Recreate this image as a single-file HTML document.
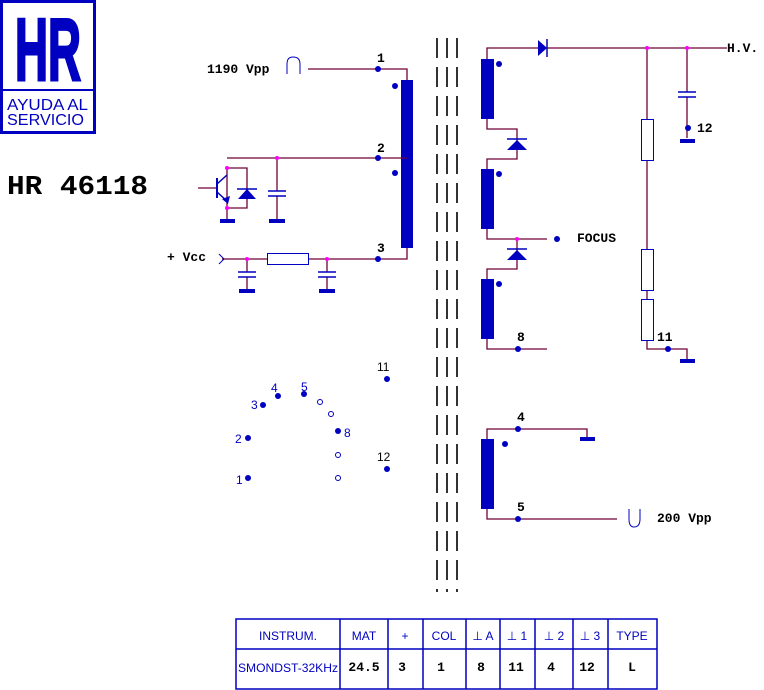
<!DOCTYPE html>
<html><head><meta charset="utf-8"><style>
body{margin:0;background:#fff;width:764px;height:690px;overflow:hidden}
svg{display:block}
.w{stroke:#700038;stroke-width:1.3;fill:none}
.b{fill:#0000c0}
.m{font-family:"Liberation Mono",monospace;font-weight:bold;font-size:13px;fill:#000}
.a{font-family:"Liberation Sans",sans-serif;fill:#0000c0}
</style></head><body>
<svg width="764" height="690" viewBox="0 0 764 690">
<!-- logo -->
<rect x="1.5" y="1.5" width="93" height="131" fill="none" stroke="#0000c0" stroke-width="3"/>
<line x1="1" y1="90" x2="95" y2="90" stroke="#0000c0" stroke-width="2"/>
<text x="15" y="80" class="a" font-weight="bold" font-size="88" stroke="#0000c0" stroke-width="3" textLength="66" lengthAdjust="spacingAndGlyphs">HR</text>
<text x="7" y="110" class="a" font-size="16" textLength="81" lengthAdjust="spacingAndGlyphs">AYUDA AL</text>
<text x="7" y="125" class="a" font-size="16" textLength="77" lengthAdjust="spacingAndGlyphs">SERVICIO</text>
<text x="7" y="194" font-family="Liberation Mono,monospace" font-weight="bold" font-size="27" textLength="141" lengthAdjust="spacingAndGlyphs">HR 46118</text>

<!-- core dashes -->
<g stroke="#000" stroke-width="1.6" stroke-dasharray="20 9">
<line x1="437" y1="38" x2="437" y2="592"/><line x1="447" y1="38" x2="447" y2="592"/><line x1="457" y1="38" x2="457" y2="592"/>
</g>

<!-- primary -->
<rect x="401" y="80" width="12" height="168" class="b"/>
<circle cx="395" cy="86" r="3" class="b"/><circle cx="395" cy="173" r="3" class="b"/>
<path class="w" d="M308 69H407V80M227 158H407M222 259H407V248"/>
<circle cx="378" cy="69" r="3" class="b"/><circle cx="378" cy="158" r="3" class="b"/><circle cx="378" cy="259" r="3" class="b"/>
<text x="377" y="62" class="m">1</text><text x="377" y="152" class="m">2</text><text x="377" y="252" class="m">3</text>
<text x="207" y="73" class="m">1190 Vpp</text>
<path d="M287 74V64Q287 57 293 57Q300 57 300 64V74" stroke="#0000c0" fill="none"/>
<!-- transistor/diode -->
<path class="w" d="M227 168V208M227 168H247V208H227M277 158V191M277 196V220M227 208V220M198 188H217"/>
<line x1="217" y1="178" x2="217" y2="198" stroke="#0000c0" stroke-width="2"/>
<path d="M217 184L227 175M217 192L227 201" stroke="#0000c0" stroke-width="1.5"/>
<path d="M222 199L230 196L228 204Z" class="b"/>
<path d="M238 199L247 189L256 199Z" class="b"/><line x1="237" y1="189" x2="257" y2="189" stroke="#0000c0" stroke-width="1.5"/>
<line x1="268" y1="191" x2="286" y2="191" stroke="#0000c0" stroke-width="1.5"/><line x1="268" y1="196" x2="286" y2="196" stroke="#0000c0" stroke-width="1.5"/>
<rect x="220" y="219" width="15" height="4" class="b"/><rect x="269" y="219" width="16" height="4" class="b"/>
<circle cx="227" cy="168" r="2" fill="#f0f"/><circle cx="227" cy="208" r="2" fill="#f0f"/><circle cx="277" cy="158" r="2" fill="#f0f"/>
<!-- vcc -->
<text x="167" y="261" class="m" font-size="12">+ Vcc</text>
<path d="M219 254L224 259L219 264" stroke="#0000c0" fill="none"/>
<rect x="267.5" y="253.5" width="41" height="11" fill="#fff" stroke="#0000c0"/>
<path class="w" d="M247 259V272M247 277V290M327 259V272M327 277V290"/>
<g stroke="#0000c0" stroke-width="1.5"><line x1="238" y1="272" x2="256" y2="272"/><line x1="238" y1="277" x2="256" y2="277"/><line x1="318" y1="272" x2="336" y2="272"/><line x1="318" y1="277" x2="336" y2="277"/></g>
<rect x="239" y="289" width="16" height="4" class="b"/><rect x="319" y="289" width="16" height="4" class="b"/>
<circle cx="247" cy="259" r="2" fill="#f0f"/><circle cx="327" cy="259" r="2" fill="#f0f"/>

<!-- secondary -->
<rect x="481" y="59" width="13" height="60" class="b"/><rect x="481" y="169" width="13" height="60" class="b"/><rect x="481" y="279" width="13" height="60" class="b"/>
<circle cx="499" cy="64" r="3" class="b"/><circle cx="499" cy="174" r="3" class="b"/><circle cx="499" cy="284" r="3" class="b"/>
<path class="w" d="M487 59V48H727M487 119V129H517V159H487V169M487 229V239H547M517 239V269H487V279M487 339V349H547"/>
<path d="M538 40L547 48L538 56Z" class="b"/><line x1="547" y1="39" x2="547" y2="57" stroke="#0000c0" stroke-width="1.5"/>
<path d="M507 150L517 140L527 150Z" class="b"/><line x1="507" y1="139" x2="527" y2="139" stroke="#0000c0" stroke-width="1.5"/>
<path d="M507 260L517 250L527 260Z" class="b"/><line x1="507" y1="249" x2="527" y2="249" stroke="#0000c0" stroke-width="1.5"/>
<circle cx="517" cy="239" r="2" fill="#f0f"/><circle cx="557" cy="239" r="3" class="b"/>
<text x="577" y="242" class="m" font-size="12">FOCUS</text>
<circle cx="518" cy="349" r="3" class="b"/><text x="517" y="341" class="m">8</text>
<!-- divider -->
<path class="w" d="M647 48V349H687V361M687 48V92M687 97V138"/>
<rect x="641.5" y="119.5" width="12" height="41" fill="#fff" stroke="#0000c0"/>
<rect x="641.5" y="249.5" width="12" height="41" fill="#fff" stroke="#0000c0"/>
<rect x="641.5" y="299.5" width="12" height="41" fill="#fff" stroke="#0000c0"/>
<g stroke="#0000c0" stroke-width="1.5"><line x1="678" y1="92" x2="696" y2="92"/><line x1="678" y1="97" x2="696" y2="97"/></g>
<circle cx="688" cy="128" r="3" class="b"/><text x="697" y="132" class="m">12</text>
<rect x="680" y="139" width="15" height="4" class="b"/><rect x="680" y="359" width="15" height="4" class="b"/>
<circle cx="668" cy="349" r="3" class="b"/><text x="657" y="341" class="m">11</text>
<circle cx="647" cy="48" r="2" fill="#f0f"/><circle cx="687" cy="48" r="2" fill="#f0f"/>
<text x="727" y="52" class="m" font-size="12">H.V.</text>

<!-- lower coil -->
<rect x="481" y="439" width="13" height="70" class="b"/><circle cx="505" cy="444" r="3" class="b"/>
<path class="w" d="M487 439V429H587V438M487 509V519H617"/>
<rect x="580" y="437" width="15" height="4" class="b"/>
<circle cx="518" cy="429" r="3" class="b"/><circle cx="518" cy="519" r="3" class="b"/>
<text x="517" y="421" class="m">4</text><text x="517" y="511" class="m">5</text>
<path d="M629 509V519Q629 527 634 527Q640 527 640 519V509" stroke="#0000c0" fill="none"/>
<text x="657" y="522" class="m">200 Vpp</text>

<!-- pin layout -->
<g class="b"><circle cx="248" cy="478" r="3"/><circle cx="248" cy="438" r="3"/><circle cx="263" cy="405" r="3"/><circle cx="278" cy="396" r="3"/><circle cx="304" cy="394" r="3"/><circle cx="338" cy="431" r="3"/><circle cx="387" cy="379" r="3"/><circle cx="387" cy="469" r="3"/></g>
<g fill="none" stroke="#0000c0"><circle cx="320" cy="402" r="2.5"/><circle cx="331" cy="414" r="2.5"/><circle cx="338" cy="455" r="2.5"/><circle cx="338" cy="478" r="2.5"/></g>
<g class="a" font-size="12"><text x="236" y="484">1</text><text x="235" y="443">2</text><text x="251" y="409">3</text><text x="271" y="392">4</text><text x="301" y="391">5</text><text x="344" y="437">8</text></g>
<g font-family="Liberation Sans,sans-serif" font-size="12"><text x="377" y="371">11</text><text x="377" y="461">12</text></g>

<!-- table -->
<g stroke="#0000c0" stroke-width="1.5" fill="none">
<rect x="236" y="619" width="421" height="70"/><line x1="236" y1="649" x2="657" y2="649"/>
<line x1="340" y1="619" x2="340" y2="689"/><line x1="388" y1="619" x2="388" y2="689"/><line x1="423" y1="619" x2="423" y2="689"/><line x1="466" y1="619" x2="466" y2="689"/><line x1="500" y1="619" x2="500" y2="689"/><line x1="535" y1="619" x2="535" y2="689"/><line x1="573" y1="619" x2="573" y2="689"/><line x1="608" y1="619" x2="608" y2="689"/>
</g>
<g class="a" font-size="12" text-anchor="middle">
<text x="288" y="640">INSTRUM.</text><text x="364" y="640">MAT</text><text x="405" y="640">+</text><text x="444" y="640">COL</text><text x="483" y="640">⊥ A</text><text x="517" y="640">⊥ 1</text><text x="554" y="640">⊥ 2</text><text x="590" y="640">⊥ 3</text><text x="632" y="640">TYPE</text>
<text x="288" y="672" textLength="100" lengthAdjust="spacingAndGlyphs">SMONDST-32KHz</text>
</g>
<g class="m" text-anchor="middle">
<text x="364" y="671">24.5</text><text x="402" y="671">3</text><text x="441" y="671">1</text><text x="481" y="671">8</text><text x="516" y="671">11</text><text x="551" y="671">4</text><text x="587" y="671">12</text><text x="632" y="671">L</text>
</g>
</svg>
</body></html>
